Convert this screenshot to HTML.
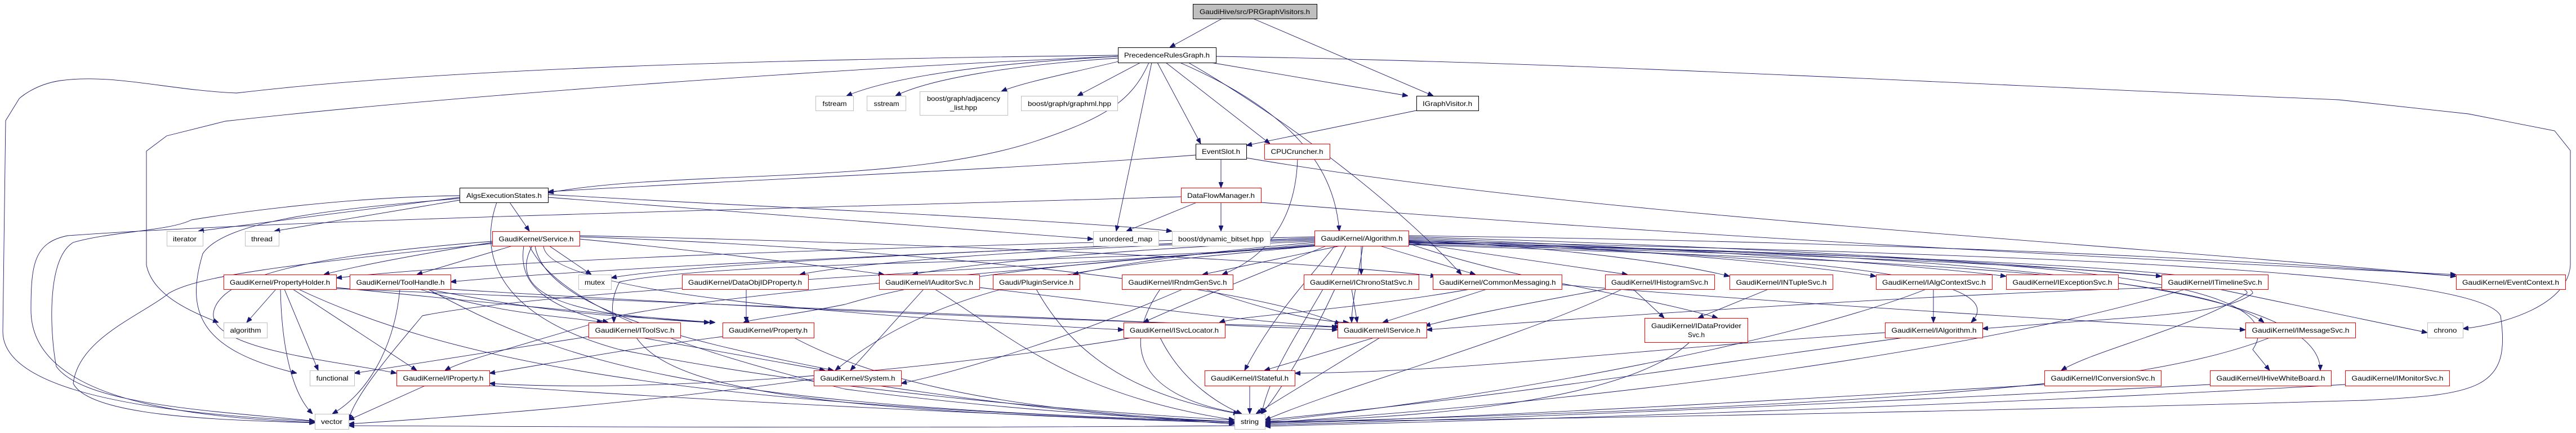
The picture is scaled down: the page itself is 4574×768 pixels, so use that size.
<!DOCTYPE html>
<html><head><meta charset="utf-8"><style>
html,body{margin:0;padding:0;background:#fff;}
svg{display:block}
text{font-family:"Liberation Sans",sans-serif;font-size:12px;fill:#000}
.n{fill:#fff;stroke-width:1}
.r{stroke:#ff0000}.k{stroke:#000}.g{stroke:#bfbfbf}
path{fill:none;stroke:#191970;stroke-width:0.9}
</style></head><body>
<svg width="4574" height="768" viewBox="0 0 4574 768" xmlns="http://www.w3.org/2000/svg">
<defs><marker id="a" viewBox="0 0 10 8" refX="10" refY="4" markerWidth="10" markerHeight="8" markerUnits="userSpaceOnUse" orient="auto"><path d="M0,0 L10,4 L0,8 z" style="fill:#191970;stroke:#191970"/></marker></defs>
<g marker-end="url(#a)">
<!-- top -->
<path d="M2170,33 L2077,84"/>
<path d="M2225,33 L2545,170"/>
<path d="M1985,100 C1800,110 1600,130 1503,170"/>
<path d="M1985,103 C1800,115 1650,140 1590,170"/>
<path d="M1990,108 C1900,130 1820,145 1778,162"/>
<path d="M2025,111 L1913,170"/>
<path d="M2150,111 L2500,170"/>
<path d="M2055,111 L2132,255"/>
<path d="M2070,111 L2255,255"/>
<path d="M2095,111 C2300,200 2370,300 2378,410"/>
<path d="M2110,111 C2300,220 2500,380 2595,487"/>
<path d="M2045,111 L1982,410"/>
<path d="M2040,111 C2010,180 1960,210 1840,250 C1600,330 1200,300 973,342"/>
<path d="M1985,98 C1400,105 800,120 420,165 C300,160 200,130 107,143 C60,150 34,175 34,175 L10,214 L5,588 C5,680 200,730 559,747"/>
<path d="M1985,100 C1500,120 800,170 400,215 L296,241 L260,268 L260,470 C270,520 330,550 388,572"/>
<path d="M2159,100 C2800,110 3500,150 4153,177 L4383,202 L4536,232 L4564,267 L4564,470 C4560,540 4450,575 4373,583"/>
<path d="M2515,196 L2213,258"/>
<path d="M2168,282 L2168,333"/>
<path d="M2123,275 C1800,300 1300,320 973,340"/>
<path d="M2213,280 C2800,380 3600,420 4361,490"/>
<path d="M2304,282 C2300,400 2240,460 2170,487"/>
<path d="M2125,359 L2000,410"/>
<path d="M2168,359 L2168,410"/>
<path d="M2097,349 C1400,370 500,390 120,418 C60,430 55,470 55,550 C55,700 300,740 559,749"/>
<path d="M2239,359 C3000,420 3800,460 4361,487"/>
<!-- AlgsExec -->
<path d="M816,350 L352,410"/>
<path d="M816,355 L487,410"/>
<path d="M905,359 L940,410"/>
<path d="M973,350 L1941,424"/>
<path d="M973,345 C1400,370 1900,390 2081,410"/>
<path d="M816,347 C600,350 400,380 340,390 C300,410 200,410 130,430 C80,460 90,600 100,650 C150,720 400,730 559,747"/>
<path d="M816,352 C600,370 400,390 360,450 C330,550 350,620 527,662"/>
<path d="M882,359 C850,450 880,560 1100,620 C1500,700 2000,735 2192,745"/>
<!-- Service -->
<path d="M874,430 C750,450 640,470 575,487"/>
<path d="M910,436 L740,487"/>
<path d="M975,436 L1050,487"/>
<path d="M1029,424 C1200,440 1450,470 1570,487"/>
<path d="M1029,418 C1600,430 2300,460 2550,490"/>
<path d="M1029,420 C1600,440 2200,500 2380,575"/>
<path d="M965,436 C970,520 1500,560 1995,585"/>
<path d="M945,436 C900,520 1000,560 1260,572"/>
<path d="M930,436 C920,500 960,540 1080,572"/>
<path d="M950,436 C970,560 1300,620 1480,657"/>
<path d="M874,428 C600,450 400,480 380,550 C360,620 600,640 704,662"/>
<path d="M874,432 C500,470 350,490 300,520 C250,560 140,600 130,680 C160,740 400,745 559,750"/>
<path d="M940,436 C1000,560 1300,640 1500,690 C1800,730 2100,745 2192,748"/>
<!-- Algorithm -->
<path d="M2334,420 C1500,440 900,460 597,493"/>
<path d="M2334,422 C1600,450 1000,480 800,500"/>
<path d="M2334,424 C1800,440 1200,470 1085,493"/>
<path d="M2334,426 C1800,440 1500,470 1420,487"/>
<path d="M2334,428 C2000,440 1700,470 1620,487"/>
<path d="M2334,430 C2100,450 1980,470 1905,487"/>
<path d="M2380,436 L2135,487"/>
<path d="M2417,436 L2417,487"/>
<path d="M2450,436 L2620,487"/>
<path d="M2501,430 L2890,487"/>
<path d="M2501,426 C2800,440 2990,470 3071,490"/>
<path d="M2501,424 C2900,440 3200,470 3331,490"/>
<path d="M2501,422 C3000,440 3400,470 3562,490"/>
<path d="M2501,420 C3200,440 3600,470 3838,490"/>
<path d="M2501,418 C3400,430 4000,460 4361,490"/>
<path d="M2334,433 C1800,480 1300,520 1100,560 C900,620 820,640 790,657"/>
<path d="M2334,436 C2000,460 1700,480 1500,540 C1400,560 1340,565 1320,572"/>
<path d="M2340,436 C1900,470 1300,460 1100,500 C1080,540 1090,560 1090,572"/>
<path d="M2334,436 C2000,470 1700,480 1483,657"/>
<path d="M2355,436 C2200,500 2100,540 2030,572"/>
<path d="M2420,436 C2410,500 2400,540 2400,572"/>
<path d="M2370,436 C2320,500 2260,560 2210,657"/>
<path d="M2501,432 C2700,500 2900,520 3050,564"/>
<path d="M2501,428 C3000,450 3600,470 3500,572"/>
<path d="M2501,430 C3200,450 4000,470 4000,520 C3950,560 3800,560 3520,583"/>
<path d="M2501,434 C3300,460 3900,480 4020,572"/>
<path d="M2501,433 C3200,450 4000,480 3990,520 C3900,580 3720,620 3660,657"/>
<path d="M2501,431 C3400,450 4100,470 4000,620 L4030,657"/>
<path d="M2501,429 C3500,450 4120,500 4120,657"/>
<path d="M2501,427 C3600,450 4400,480 4440,560 C4460,690 4400,700 4200,710 C3500,730 2700,745 2246,748"/>
<path d="M2390,436 C2330,560 2260,640 2240,734"/>
<path d="M2334,435 C1800,480 1000,510 750,560 C700,620 630,700 619,745"/>
<!-- row 2 -->
<path d="M490,513 L438,572"/>
<path d="M505,513 L565,657"/>
<path d="M520,513 L740,657"/>
<path d="M498,513 C500,620 520,700 555,734"/>
<path d="M597,510 C900,540 1100,560 1270,572"/>
<path d="M530,513 C800,640 1200,720 2192,748"/>
<path d="M597,512 C1200,540 1800,560 2375,585"/>
<path d="M710,513 C700,620 650,700 590,734"/>
<path d="M745,513 C900,560 1000,560 1070,572"/>
<path d="M760,513 C1000,560 1100,560 1260,572"/>
<path d="M760,513 C1000,640 1200,720 2192,748"/>
<path d="M800,513 C1400,550 1900,570 2375,580"/>
<path d="M1325,513 L1325,572"/>
<path d="M1640,513 L1510,657"/>
<path d="M1660,513 C1800,600 1900,700 2192,745"/>
<path d="M1739,510 C2000,540 2200,570 2380,580"/>
<path d="M1840,513 C1900,620 2000,700 2200,734"/>
<path d="M2060,513 C2000,600 2000,700 2205,734"/>
<path d="M2100,513 C1900,600 1700,660 1600,680"/>
<path d="M2140,513 C2250,550 2330,570 2395,572"/>
<path d="M2370,513 C2330,600 2270,700 2240,734"/>
<path d="M2400,513 L2410,572"/>
<path d="M2610,513 C2400,550 2200,560 2165,572"/>
<path d="M2640,513 L2455,572"/>
<path d="M2773,505 C3200,540 3700,570 3987,585"/>
<path d="M2850,513 C2700,540 2600,560 2530,578"/>
<path d="M2900,513 L2955,564"/>
<path d="M2880,513 C2700,600 2400,680 2246,745"/>
<path d="M3140,513 L3015,564"/>
<path d="M3433,513 L3433,572"/>
<path d="M3420,513 C3200,600 2700,700 2246,748"/>
<path d="M3940,513 L4310,590"/>
<path d="M3838,510 C3500,520 3000,550 2533,585"/>
<path d="M3880,513 C3600,600 3000,700 2246,750"/>
<!-- row 3 -->
<path d="M1045,597 C900,620 700,650 629,662"/>
<path d="M1140,599 L1465,657"/>
<path d="M1130,599 C1200,700 1500,730 2192,750"/>
<path d="M1283,597 C1100,620 950,650 869,662"/>
<path d="M1410,599 C1600,700 1900,735 2192,748"/>
<path d="M2010,599 C1700,650 1200,700 869,680"/>
<path d="M2060,599 C2100,680 2170,720 2205,734"/>
<path d="M2440,599 L2245,657"/>
<path d="M2450,599 L2230,734"/>
<path d="M3000,607 C2900,700 2600,740 2246,748"/>
<path d="M3347,590 C2900,620 2600,660 2299,662"/>
<path d="M3380,599 C3000,650 2700,700 2246,745"/>
<path d="M4030,599 C3800,690 3300,720 2246,750"/>
<!-- row 4 -->
<path d="M755,684 L619,745"/>
<path d="M869,684 C1400,720 1900,740 2192,750"/>
<path d="M1445,672 C1100,720 800,740 619,752"/>
<path d="M1560,684 C1800,720 2000,740 2192,752"/>
<path d="M2219,684 L2219,734"/>
<path d="M3630,682 C3000,720 2600,740 2246,752"/>
<path d="M3924,682 C3200,720 2600,745 2246,754"/>
<path d="M4164,682 C3500,720 2700,745 2246,756"/>
<path d="M2192,755 C1600,760 1000,757 619,755"/>
</g>
<!-- nodes -->
<g>
<rect class="n k" x="2118.5" y="7.5" width="220" height="26" style="fill:#bfbfbf"/><text x="2228" y="25" text-anchor="middle" textLength="196" lengthAdjust="spacingAndGlyphs">GaudiHive/src/PRGraphVisitors.h</text>
<rect class="n k" x="1985.5" y="84.5" width="174" height="27"/><text x="2072" y="102" text-anchor="middle" textLength="152" lengthAdjust="spacingAndGlyphs">PrecedenceRulesGraph.h</text>
<rect class="n g" x="1448.5" y="170.5" width="67" height="26"/><text x="1482" y="188" text-anchor="middle" textLength="43" lengthAdjust="spacingAndGlyphs">fstream</text>
<rect class="n g" x="1539.5" y="170.5" width="69" height="26"/><text x="1574" y="188" text-anchor="middle" textLength="45" lengthAdjust="spacingAndGlyphs">sstream</text>
<rect class="n g" x="1633.5" y="162.5" width="156" height="42"/><text x="1711" y="179" text-anchor="middle" textLength="130" lengthAdjust="spacingAndGlyphs">boost/graph/adjacency</text><text x="1711" y="195" text-anchor="middle" textLength="48" lengthAdjust="spacingAndGlyphs">_list.hpp</text>
<rect class="n g" x="1813.5" y="170.5" width="171" height="26"/><text x="1899" y="188" text-anchor="middle" textLength="148" lengthAdjust="spacingAndGlyphs">boost/graph/graphml.hpp</text>
<rect class="n k" x="2515.5" y="170.5" width="110" height="26"/><text x="2570" y="188" text-anchor="middle" textLength="88" lengthAdjust="spacingAndGlyphs">IGraphVisitor.h</text>
<rect class="n k" x="2123.5" y="255.5" width="90" height="27"/><text x="2168" y="273" text-anchor="middle" textLength="68" lengthAdjust="spacingAndGlyphs">EventSlot.h</text>
<rect class="n r" x="2245.5" y="255.5" width="116" height="27"/><text x="2303" y="273" text-anchor="middle" textLength="93" lengthAdjust="spacingAndGlyphs">CPUCruncher.h</text>
<rect class="n k" x="816.5" y="333.5" width="157" height="26"/><text x="895" y="351" text-anchor="middle" textLength="134" lengthAdjust="spacingAndGlyphs">AlgsExecutionStates.h</text>
<rect class="n r" x="2097.5" y="333.5" width="142" height="26"/><text x="2168" y="351" text-anchor="middle" textLength="120" lengthAdjust="spacingAndGlyphs">DataFlowManager.h</text>
<rect class="n g" x="296.5" y="410.5" width="64" height="26"/><text x="328" y="428" text-anchor="middle" textLength="42" lengthAdjust="spacingAndGlyphs">iterator</text>
<rect class="n g" x="435.5" y="410.5" width="60" height="26"/><text x="465" y="428" text-anchor="middle" textLength="38" lengthAdjust="spacingAndGlyphs">thread</text>
<rect class="n r" x="874.5" y="410.5" width="155" height="26"/><text x="952" y="428" text-anchor="middle" textLength="133" lengthAdjust="spacingAndGlyphs">GaudiKernel/Service.h</text>
<rect class="n g" x="1941.5" y="410.5" width="116" height="26"/><text x="1999" y="428" text-anchor="middle" textLength="94" lengthAdjust="spacingAndGlyphs">unordered_map</text>
<rect class="n g" x="2081.5" y="410.5" width="174" height="26"/><text x="2168" y="428" text-anchor="middle" textLength="152" lengthAdjust="spacingAndGlyphs">boost/dynamic_bitset.hpp</text>
<rect class="n r" x="2334.5" y="409.5" width="167" height="27"/><text x="2418" y="427" text-anchor="middle" textLength="145" lengthAdjust="spacingAndGlyphs">GaudiKernel/Algorithm.h</text>

<rect class="n r" x="397.5" y="487.5" width="200" height="26"/><text x="497" y="505" text-anchor="middle" textLength="178" lengthAdjust="spacingAndGlyphs">GaudiKernel/PropertyHolder.h</text>
<rect class="n r" x="621.5" y="487.5" width="179" height="26"/><text x="711" y="505" text-anchor="middle" textLength="157" lengthAdjust="spacingAndGlyphs">GaudiKernel/ToolHandle.h</text>
<rect class="n g" x="1027.5" y="487.5" width="58" height="26"/><text x="1056" y="505" text-anchor="middle" textLength="36" lengthAdjust="spacingAndGlyphs">mutex</text>
<rect class="n r" x="1211.5" y="487.5" width="224" height="26"/><text x="1323" y="505" text-anchor="middle" textLength="202" lengthAdjust="spacingAndGlyphs">GaudiKernel/DataObjIDProperty.h</text>
<rect class="n r" x="1561.5" y="487.5" width="178" height="26"/><text x="1650" y="505" text-anchor="middle" textLength="156" lengthAdjust="spacingAndGlyphs">GaudiKernel/IAuditorSvc.h</text>
<rect class="n r" x="1763.5" y="487.5" width="154" height="26"/><text x="1840" y="505" text-anchor="middle" textLength="132" lengthAdjust="spacingAndGlyphs">Gaudi/PluginService.h</text>
<rect class="n r" x="1992.5" y="487.5" width="197" height="26"/><text x="2091" y="505" text-anchor="middle" textLength="175" lengthAdjust="spacingAndGlyphs">GaudiKernel/IRndmGenSvc.h</text>
<rect class="n r" x="2315.5" y="487.5" width="204" height="26"/><text x="2417" y="505" text-anchor="middle" textLength="182" lengthAdjust="spacingAndGlyphs">GaudiKernel/IChronoStatSvc.h</text>
<rect class="n r" x="2544.5" y="487.5" width="229" height="26"/><text x="2659" y="505" text-anchor="middle" textLength="207" lengthAdjust="spacingAndGlyphs">GaudiKernel/CommonMessaging.h</text>
<rect class="n r" x="2850.5" y="487.5" width="194" height="26"/><text x="2947" y="505" text-anchor="middle" textLength="172" lengthAdjust="spacingAndGlyphs">GaudiKernel/IHistogramSvc.h</text>
<rect class="n r" x="3071.5" y="487.5" width="183" height="26"/><text x="3163" y="505" text-anchor="middle" textLength="161" lengthAdjust="spacingAndGlyphs">GaudiKernel/INTupleSvc.h</text>
<rect class="n r" x="3331.5" y="487.5" width="206" height="26"/><text x="3434" y="505" text-anchor="middle" textLength="184" lengthAdjust="spacingAndGlyphs">GaudiKernel/IAlgContextSvc.h</text>
<rect class="n r" x="3562.5" y="487.5" width="199" height="26"/><text x="3662" y="505" text-anchor="middle" textLength="177" lengthAdjust="spacingAndGlyphs">GaudiKernel/IExceptionSvc.h</text>
<rect class="n r" x="3838.5" y="487.5" width="189" height="26"/><text x="3933" y="505" text-anchor="middle" textLength="167" lengthAdjust="spacingAndGlyphs">GaudiKernel/ITimelineSvc.h</text>
<rect class="n r" x="4361.5" y="487.5" width="194" height="26"/><text x="4458" y="505" text-anchor="middle" textLength="172" lengthAdjust="spacingAndGlyphs">GaudiKernel/EventContext.h</text>

<rect class="n g" x="397.5" y="572.5" width="77" height="27"/><text x="436" y="590" text-anchor="middle" textLength="55" lengthAdjust="spacingAndGlyphs">algorithm</text>
<rect class="n r" x="1045.5" y="572.5" width="163" height="27"/><text x="1127" y="590" text-anchor="middle" textLength="141" lengthAdjust="spacingAndGlyphs">GaudiKernel/IToolSvc.h</text>
<rect class="n r" x="1283.5" y="572.5" width="162" height="27"/><text x="1364" y="590" text-anchor="middle" textLength="140" lengthAdjust="spacingAndGlyphs">GaudiKernel/Property.h</text>
<rect class="n r" x="1995.5" y="572.5" width="180" height="27"/><text x="2085" y="590" text-anchor="middle" textLength="158" lengthAdjust="spacingAndGlyphs">GaudiKernel/ISvcLocator.h</text>
<rect class="n r" x="2375.5" y="572.5" width="158" height="27"/><text x="2454" y="590" text-anchor="middle" textLength="136" lengthAdjust="spacingAndGlyphs">GaudiKernel/IService.h</text>
<rect class="n r" x="2920.5" y="564.5" width="183" height="43"/><text x="3012" y="582" text-anchor="middle" textLength="160" lengthAdjust="spacingAndGlyphs">GaudiKernel/IDataProvider</text><text x="3012" y="598" text-anchor="middle" textLength="30" lengthAdjust="spacingAndGlyphs">Svc.h</text>
<rect class="n r" x="3347.5" y="572.5" width="173" height="27"/><text x="3434" y="590" text-anchor="middle" textLength="151" lengthAdjust="spacingAndGlyphs">GaudiKernel/IAlgorithm.h</text>
<rect class="n r" x="3987.5" y="572.5" width="195" height="27"/><text x="4085" y="590" text-anchor="middle" textLength="173" lengthAdjust="spacingAndGlyphs">GaudiKernel/IMessageSvc.h</text>
<rect class="n g" x="4310.5" y="572.5" width="63" height="27"/><text x="4342" y="590" text-anchor="middle" textLength="41" lengthAdjust="spacingAndGlyphs">chrono</text>

<rect class="n g" x="550.5" y="657.5" width="79" height="27"/><text x="590" y="675" text-anchor="middle" textLength="57" lengthAdjust="spacingAndGlyphs">functional</text>
<rect class="n r" x="704.5" y="657.5" width="165" height="27"/><text x="787" y="675" text-anchor="middle" textLength="143" lengthAdjust="spacingAndGlyphs">GaudiKernel/IProperty.h</text>
<rect class="n r" x="1445.5" y="657.5" width="155" height="27"/><text x="1523" y="675" text-anchor="middle" textLength="133" lengthAdjust="spacingAndGlyphs">GaudiKernel/System.h</text>
<rect class="n r" x="2139.5" y="657.5" width="160" height="27"/><text x="2219" y="675" text-anchor="middle" textLength="138" lengthAdjust="spacingAndGlyphs">GaudiKernel/IStateful.h</text>
<rect class="n r" x="3630.5" y="657.5" width="207" height="27"/><text x="3734" y="675" text-anchor="middle" textLength="185" lengthAdjust="spacingAndGlyphs">GaudiKernel/IConversionSvc.h</text>
<rect class="n r" x="3924.5" y="657.5" width="215" height="27"/><text x="4032" y="675" text-anchor="middle" textLength="193" lengthAdjust="spacingAndGlyphs">GaudiKernel/IHiveWhiteBoard.h</text>
<rect class="n r" x="4164.5" y="657.5" width="185" height="27"/><text x="4257" y="675" text-anchor="middle" textLength="163" lengthAdjust="spacingAndGlyphs">GaudiKernel/IMonitorSvc.h</text>

<rect class="n g" x="559.5" y="734.5" width="60" height="27"/><text x="589" y="752" text-anchor="middle" textLength="38" lengthAdjust="spacingAndGlyphs">vector</text>
<rect class="n g" x="2192.5" y="734.5" width="54" height="27"/><text x="2219" y="752" text-anchor="middle" textLength="32" lengthAdjust="spacingAndGlyphs">string</text>
</g>
</svg>
</body></html>
